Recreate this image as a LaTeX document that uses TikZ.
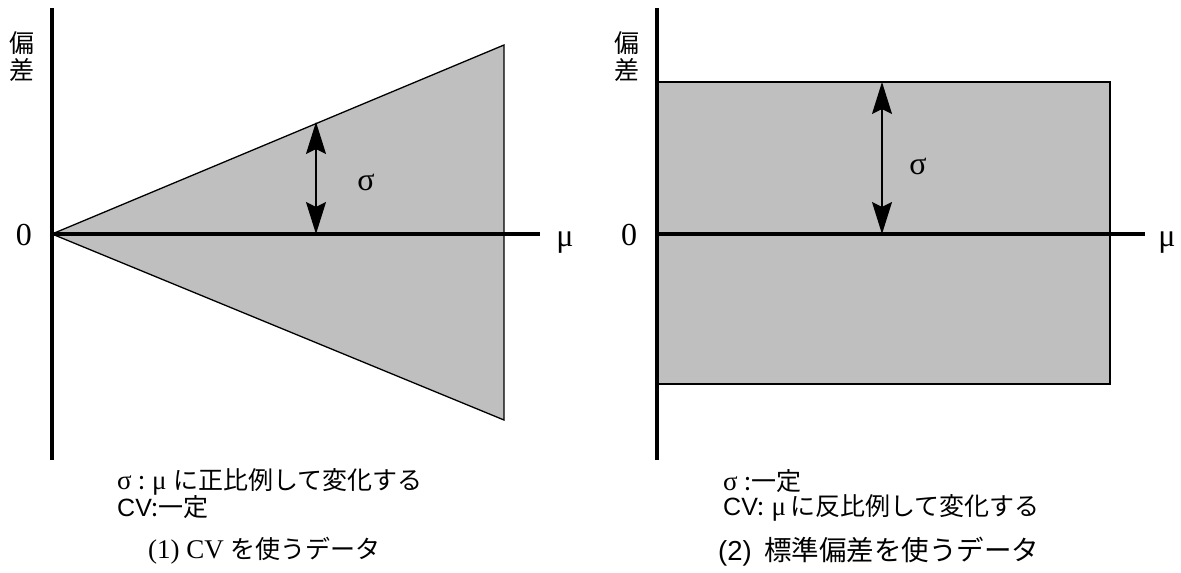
\documentclass[tikz,border=0pt]{standalone}
\usepackage{fontspec}
\setmainfont{Liberation Serif}
\newfontfamily\jpfont{Noto Sans CJK JP}
\newfontfamily\arialfont{Liberation Sans}
\newcommand\jptxt[1]{{\fontsize{25}{27}\selectfont\jpfont #1}}
\usetikzlibrary{arrows.meta}

\begin{document}
\begin{tikzpicture}[x=1pt,y=-1pt,
    axis/.style={line width=4pt},
    area/.style={fill=black!25, draw=black, line width=1.3pt},
    arr/.style={{Stealth[length=32pt,width=20pt,inset=5pt]}-{Stealth[length=32pt,width=20pt,inset=5pt]}, line width=1.3pt},
    lbl/.style={font=\fontsize{32}{34}\selectfont},
    ylbl/.style={font=\fontsize{25}{27}\selectfont\jpfont, align=center, inner sep=0pt},
    captxt/.style={font=\fontsize{27}{27}\selectfont, anchor=west, inner sep=0pt}
]
\useasboundingbox (0,0) rectangle (1181,573);

% (1) CV
\coordinate (o1) at (52,234);
\coordinate (t1) at (504,45);
\coordinate (b1) at (504,420);
\coordinate (ytop1) at (52,8);
\coordinate (ybot1) at (52,460);
\coordinate (xend1) at (540,234);
\coordinate (sa1) at (316,234);
\coordinate (sb1) at (316,122);
\draw[area] (o1) -- (t1) -- (b1) -- cycle;
\draw[axis] (ytop1) -- (ybot1);
\draw[axis] (o1) -- (xend1);
\draw[arr] (sa1) -- (sb1);
\node[lbl] (sig1) at (366,182) {σ};
\node[lbl] (zero1) at (24,235) {0};
\node[lbl] (mu1) at (565,243) {μ};
\node[ylbl] (dev1) at (22,57) {偏\\差};
\node[captxt] (capa1) at (117,482) {σ\ \jptxt{:}\ μ\ \jptxt{に正比例して変化する}};
\node[captxt] (capb1) at (117,507) {\jptxt{{\arialfont CV}:一定}};
\node[captxt] (title1) at (148,551) {(1) CV \jptxt{を使うデータ}};

% (2) standard deviation
\coordinate (o2) at (657,234);
\coordinate (ytop2) at (657,8);
\coordinate (ybot2) at (657,460);
\coordinate (xend2) at (1145,234);
\coordinate (sa2) at (882,234);
\coordinate (sb2) at (882,82);
\draw[area] (657,82) rectangle (1110,384);
\draw[axis] (ytop2) -- (ybot2);
\draw[axis] (o2) -- (xend2);
\draw[arr] (sa2) -- (sb2);
\node[lbl] (sig2) at (918,166) {σ};
\node[lbl] (zero2) at (629,235) {0};
\node[lbl] (mu2) at (1167,243) {μ};
\node[ylbl] (dev2) at (627,57) {偏\\差};
\node[captxt] (capa2) at (723,481) {σ\ \jptxt{:一定}};
\node[captxt] (capb2) at (723,508) {\jptxt{{\arialfont CV}:}\ μ\,\jptxt{に反比例して変化する}};
\node[captxt, font=\fontsize{27.5}{29}\selectfont\jpfont] (title2) at (718,552) {{\arialfont (2)}\ \ 標準偏差を使うデータ};
\end{tikzpicture}
\end{document}
